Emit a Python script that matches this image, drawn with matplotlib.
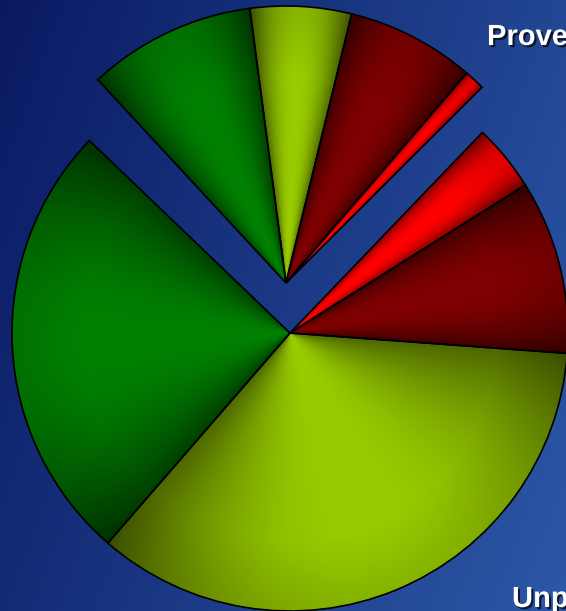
#!/usr/bin/env python3
"""Exploded pie: proved vs unproved shares, drawn as two offset pie groups."""

import numpy as np
import matplotlib
matplotlib.use('Agg')
import matplotlib.pyplot as plt
import matplotlib.patheffects as pe
from matplotlib.colors import to_rgb

plt.rcParams['font.family'] = ['Liberation Sans', 'DejaVu Sans']

# .:: DATA (fractions of the full circle) ::.
main_values = [0.039, 0.101, 0.352, 0.258]
main_colors = ['#ff0000', '#800000', '#99cc00', '#008000']
top_values = [0.098, 0.059, 0.075, 0.012]
top_colors = ['#008000', '#99cc00', '#800000', '#ff0000']
labels = ['Proved', 'Unproved']

W, H = 566, 611

fig = plt.figure(figsize=(W / 100, H / 100), dpi=100)
ax = fig.add_axes([0, 0, 1, 1])
ax.set_xlim(0, W)
ax.set_ylim(0, H)
ax.set_aspect('equal')
ax.axis('off')

# .:: BACKGROUND GRADIENT ::.
gx, gy = np.meshgrid(np.linspace(0, 1, 200), np.linspace(0, 1, 200))
g = 0.72 * gx + 0.28 * gy
c0 = np.array(to_rgb('#0a1a62'))
c1 = np.array(to_rgb('#2c58a8'))
bg = c0 + (c1 - c0) * g[..., None]
ax.imshow(bg, extent=[0, W, 0, H], origin='upper', zorder=0, aspect='auto')


def shade(wedges, colors):
    # darker towards the straight edges of each wedge
    for w, col in zip(wedges, colors):
        cx, cy = w.center
        r = w.r
        n = 300
        xs = np.linspace(cx - r, cx + r, n)
        ys = np.linspace(cy - r, cy + r, n)
        X, Y = np.meshgrid(xs, ys)
        ang = np.degrees(np.arctan2(Y - cy, X - cx))
        t1, t2 = w.theta1, w.theta2
        rel = (ang - t1) % 360
        t = np.clip(rel / (t2 - t1), 0, 1)
        u = 2 * np.minimum(t, 1 - t)
        rad = np.hypot(X - cx, Y - cy) / r
        f = 1 - 0.5 * (1 - u) ** 2.2 - 0.12 * np.clip(rad - 0.75, 0, 1) / 0.25
        img = np.array(to_rgb(col))[None, None, :] * np.clip(f, 0, 1)[..., None]
        im = ax.imshow(img, extent=[cx - r, cx + r, cy - r, cy + r],
                       origin='lower', zorder=1, aspect='auto')
        im.set_clip_path(w)
        w.set_facecolor('none')
        w.set_zorder(2)


wp = dict(edgecolor='black', linewidth=1.2)

main_w, _ = ax.pie(main_values, colors=main_colors, normalize=False,
                   startangle=46.2, counterclock=False, radius=278,
                   center=(290, H - 333), wedgeprops=wp, frame=True)
top_w, _ = ax.pie(top_values, colors=top_colors, normalize=False,
                  startangle=132.8, counterclock=False, radius=277,
                  center=(286, H - 283), wedgeprops=wp, frame=True)
ax.set_xlim(0, W)
ax.set_ylim(0, H)
ax.axis('off')

shade(main_w, main_colors)
shade(top_w, top_colors)

shadow = [pe.withSimplePatchShadow(offset=(1.5, -1.5), shadow_rgbFace='black', alpha=0.7)]
ax.text(487, H - 45, labels[0], fontsize=21, fontweight='bold', color='white',
        va='baseline', ha='left', zorder=5, path_effects=shadow)
ax.text(512, H - 607, labels[1], fontsize=21, fontweight='bold', color='white',
        va='baseline', ha='left', zorder=5, path_effects=shadow)

fig.savefig('out.png', dpi=100)
